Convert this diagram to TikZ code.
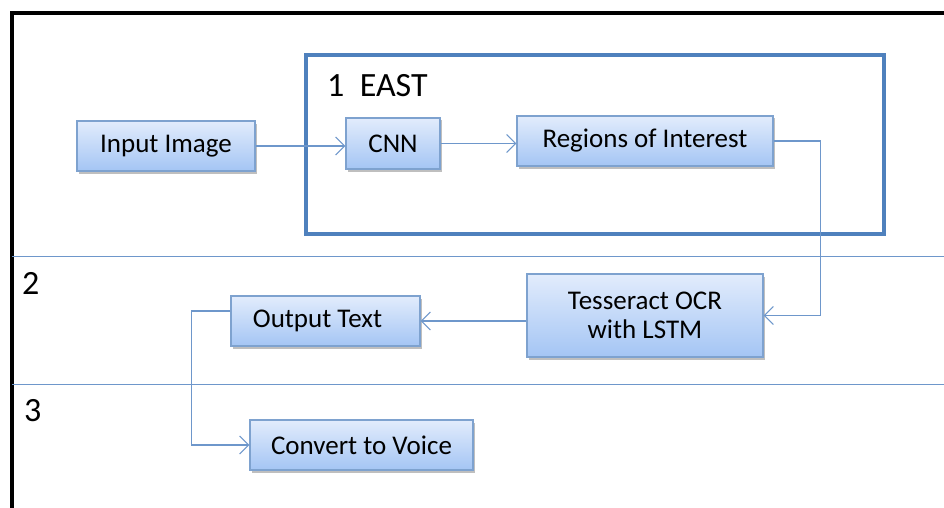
\documentclass[tikz,border=0pt]{standalone}
\usepackage{fontspec}
\setmainfont{Carlito}
\usetikzlibrary{arrows.meta,shadows}
\definecolor{boxline}{HTML}{7EA2CF}
\definecolor{boxtop}{HTML}{E2ECFC}
\definecolor{boxbot}{HTML}{A4C5F4}
\definecolor{connc}{HTML}{6E97CB}
\definecolor{eastc}{HTML}{4F81BD}
\tikzset{
  procbox/.style={draw=boxline, line width=1.2pt, top color=boxtop, bottom color=boxbot,
    drop shadow={shadow xshift=2pt, shadow yshift=-2.5pt, opacity=0.25, fill=black},
    font=\fontsize{27}{29}\selectfont, inner sep=0pt, align=center},
  conn/.style={draw=connc, line width=1.1pt, -{Straight Barb[length=9pt,width=18pt,line width=1.1pt]}},
  sepline/.style={draw=connc, line width=1pt},
  biglabel/.style={font=\fontsize{34}{36}\selectfont, inner sep=0pt, anchor=west}
}
\begin{document}
\begin{tikzpicture}[x=1pt,y=-1pt]
\useasboundingbox (0,0) rectangle (944,508);
% outer frame
\draw[line width=4pt, black] (12,515) -- (12,13) -- (950,13);
% separator lines
\draw[sepline] (12,256) -- (944,256);
\draw[sepline] (12,384) -- (944,384);
% EAST frame
\node[draw=eastc, line width=3.5pt, minimum width=578pt, minimum height=179pt, inner sep=0pt] (east) at (595,144.5) {};
\node[biglabel] (eastlbl) at (327,86) {1\ \ EAST};
\node[biglabel] (lbl2) at (22,283) {2};
\node[biglabel] (lbl3) at (24,411) {3};
% boxes
\node[procbox, minimum width=178pt, minimum height=50pt] (inp) at (166,146) {Input Image};
\node[procbox, minimum width=94pt, minimum height=51pt] (cnn) at (393,143.5) {CNN};
\node[procbox, minimum width=256pt, minimum height=50pt] (roi) at (645,141) {Regions of Interest};
\node[procbox, minimum width=236pt, minimum height=83pt] (tess) at (645,315.5) {Tesseract OCR\\with LSTM};
\node[procbox, minimum width=189pt, minimum height=50pt] (out) at (325.5,321) {Output Text\hspace*{16pt}};
\node[procbox, minimum width=223pt, minimum height=50pt] (voice) at (361.5,445) {Convert to Voice};
% connectors
\draw[conn] (inp.east) -- (inp.east -| cnn.west);
\draw[conn] (cnn.east) -- (cnn.east -| roi.west);
\draw[conn] (roi.east) -- ++(47,0) |- (tess.east);
\draw[conn] (tess.west |- out.east) -- (out.east);
\draw[conn] ([yshift=10pt]out.west) -- ++(-39,0) |- (voice.west);
\end{tikzpicture}
\end{document}
